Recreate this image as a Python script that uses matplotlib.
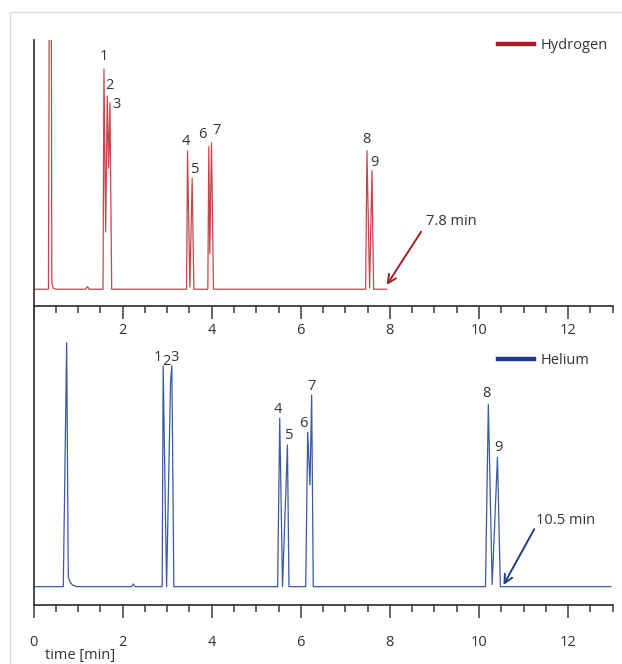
import matplotlib
matplotlib.use("Agg")
import matplotlib.pyplot as plt
from matplotlib.patches import Rectangle

plt.rcParams['font.family'] = ['Open Sans', 'DejaVu Sans']

# chromatogram traces (time in min, detector signal in arbitrary units)
h2_time = [0, 0.335, 0.36, 0.395, 0.41, 0.44, 0.5, 1.17, 1.21, 1.25,
           1.56, 1.581, 1.619, 1.655, 1.685, 1.715, 1.755,
           3.435, 3.457, 3.509, 3.561, 3.599,
           3.913, 3.935, 3.957, 3.995, 4.04,
           7.455, 7.485, 7.545, 7.597, 7.635, 7.93]
h2_signal = [0, 0, 180, 180, 3, 0.5, 0, 0, 1.2, 0,
             0, 100, 26, 87.7, 55, 84.7, 0,
             0, 62.8, 1, 50.4, 0,
             0, 64.7, 16.3, 66.5, 0,
             0, 62.9, 0.5, 53.8, 0, 0]

he_time = [0, 0.668, 0.744, 0.78, 0.82, 0.88, 0.97, 2.2, 2.24, 2.28,
           2.888, 2.91, 2.987, 3.076, 3.105, 3.15,
           5.48, 5.527, 5.59, 5.70, 5.735,
           6.11, 6.155, 6.206, 6.244, 6.28,
           10.146, 10.21, 10.296, 10.415, 10.48, 12.96]
he_signal = [0, 0, 110.4, 4.5, 2, 0.7, 0, 0, 1.2, 0,
             0, 99.8, 0, 92.8, 100, 0,
             0, 76.2, 0, 64.1, 0,
             0, 69.9, 46, 86.7, 0,
             0, 82.5, 1, 58.6, 0, 0]

peak_labels = ['1', '2', '3', '4', '5', '6', '7', '8', '9']
h2_label_x = [1.581, 1.715, 1.857, 3.413, 3.637, 3.778, 4.114, 7.478, 7.65]
h2_label_y = [105.9, 92.7, 84.0, 67.3, 54.5, 70.4, 72.3, 68.1, 57.5]
he_label_x = [2.80, 2.975, 3.17, 5.489, 5.735, 6.065, 6.238, 10.175, 10.444]
he_label_y = [103.9, 102.0, 103.9, 80.0, 68.2, 73.6, 90.5, 87.5, 62.9]

h2_runtime = '7.8 min'
he_runtime = '10.5 min'

h2_line = '#c4474c'
h2_dark = '#a51e24'
he_line = '#3a5aa6'
he_dark = '#1d3c8c'
txt = '#333333'
spine = '#3a3a3a'

fig = plt.figure(figsize=(6.22, 6.64), dpi=100)
fig.add_artist(Rectangle((10 / 622, -0.1), 1.2, (664 - 12) / 664 + 0.1,
                         transform=fig.transFigure, fill=False,
                         edgecolor='#dcdcdc', linewidth=1))

ax1 = fig.add_axes([0.0539, 0.5392, 0.931, 0.4006])
ax2 = fig.add_axes([0.0539, 0.0889, 0.931, 0.4503])

for ax in (ax1, ax2):
    ax.set_facecolor('none')
    ax.set_xlim(0, 13)
    for s in ['top', 'right']:
        ax.spines[s].set_visible(False)
    for s in ['left', 'bottom']:
        ax.spines[s].set_color(spine)
        ax.spines[s].set_linewidth(1.3)
    ax.set_yticks([])
    ax.set_xticks([0, 2, 4, 6, 8, 10, 12])
    ax.set_xticks([x * 0.5 for x in range(27)], minor=True)
    ax.tick_params(axis='x', which='major', direction='out', length=9.5,
                   width=1.1, color=spine, labelsize=10.5, labelcolor=txt)
    ax.tick_params(axis='x', which='minor', direction='out', length=5,
                   width=1.1, color=spine)

ax1.set_ylim(-7.6, 113.2)
ax1.set_xticklabels(['', '2', '4', '6', '8', '10', '12'])
ax1.tick_params(axis='x', which='major', pad=3)
ax2.set_ylim(-8.28, 127)
ax2.tick_params(axis='x', which='major', pad=12)

ax1.plot(h2_time, h2_signal, color=h2_line, linewidth=0.9, label='_trace')
ax2.plot(he_time, he_signal, color=he_line, linewidth=0.9, label='_trace')

for lab, x, y in zip(peak_labels, h2_label_x, h2_label_y):
    ax1.text(x, y, lab, ha='center', va='center', fontsize=10.5, color=txt)
for lab, x, y in zip(peak_labels, he_label_x, he_label_y):
    ax2.text(x, y, lab, ha='center', va='center', fontsize=10.5, color=txt)

# run time arrows
ax1.annotate('', xy=(7.93, 1.95), xytext=(8.70, 26.1),
             arrowprops=dict(arrowstyle='->,head_length=0.6,head_width=0.3',
                             color=h2_dark, lw=1.4, shrinkA=0, shrinkB=0))
ax1.text(8.82, 30.7, h2_runtime, ha='left', va='center', fontsize=10.5, color=txt)
ax2.annotate('', xy=(10.55, 0.77), xytext=(11.24, 26.0),
             arrowprops=dict(arrowstyle='->,head_length=0.6,head_width=0.3',
                             color=he_dark, lw=1.4, shrinkA=0, shrinkB=0))
ax2.text(11.29, 29.9, he_runtime, ha='left', va='center', fontsize=10.5, color=txt)

# legends
ax1.plot([], [], color=h2_dark, linewidth=3.2, label='Hydrogen')
ax2.plot([], [], color=he_dark, linewidth=3.2, label='Helium')
for ax, ypx in ((ax1, 45.7), (ax2, 361)):
    leg = ax.legend(loc='center left', bbox_to_anchor=(498 / 622, 1 - ypx / 664),
                    bbox_transform=fig.transFigure, frameon=False, borderpad=0,
                    borderaxespad=0, handlelength=2.5, handletextpad=0.45,
                    fontsize=10.5)
    for t in leg.get_texts():
        t.set_color(txt)

fig.text(45 / 622, 1 - 655 / 664, 'time [min]', ha='left', va='center',
         fontsize=10.5, color=txt)

fig.savefig('out.png', dpi=100)
